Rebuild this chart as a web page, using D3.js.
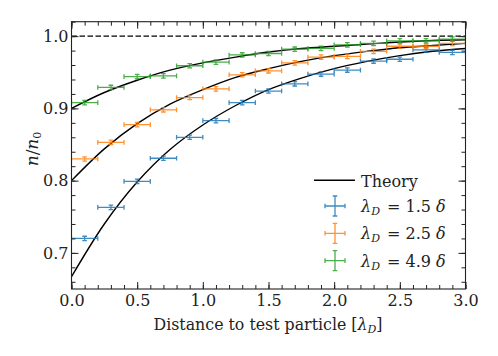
<!DOCTYPE html>
<html>
<head>
<meta charset="utf-8">
<script src="https://cdn.jsdelivr.net/npm/d3@7"></script>
<style>
  body { margin: 0; background: #fff; }
</style>
</head>
<body>
<svg id="chart"></svg>
<script>
// sample positions (bin centres) and x half-width
const distance = [0.1, 0.3, 0.5, 0.7, 0.9, 1.1, 1.3, 1.5, 1.7, 1.9, 2.1, 2.3, 2.5, 2.7, 2.9];
const binHalf = 0.1;

const density15 = [0.720, 0.763, 0.799, 0.831, 0.860, 0.883, 0.908, 0.924, 0.934, 0.9475, 0.953, 0.9655, 0.968, 0.981, 0.9775];
const density25 = [0.830, 0.853, 0.8775, 0.898, 0.915, 0.927, 0.9465, 0.952, 0.963, 0.971, 0.972, 0.979, 0.986, 0.986, 0.990];
const density49 = [0.908, 0.929, 0.944, 0.945, 0.959, 0.964, 0.974, 0.976, 0.982, 0.983, 0.988, 0.990, 0.9935, 0.9935, 0.996];
const densityErr = [0.003, 0.003, 0.003, 0.003, 0.003, 0.003, 0.003, 0.003, 0.003, 0.003, 0.003, 0.003, 0.003, 0.003, 0.003];

const theoryX = [0, 0.25, 0.5, 0.75, 1.0, 1.25, 1.5, 1.75, 2.0, 2.25, 2.5, 2.75, 3.0];
const theory15 = [0.667, 0.740, 0.798, 0.843, 0.877, 0.904, 0.926, 0.942, 0.955, 0.965, 0.973, 0.979, 0.983];
const theory25 = [0.800, 0.844, 0.879, 0.906, 0.926, 0.943, 0.955, 0.965, 0.973, 0.979, 0.984, 0.987, 0.990];
const theory49 = [0.900, 0.922, 0.939, 0.953, 0.963, 0.971, 0.978, 0.983, 0.986, 0.989, 0.992, 0.994, 0.995];

const seriesLabels = ['1.5', '2.5', '4.9'];
const xTicks = [0, 0.5, 1.0, 1.5, 2.0, 2.5, 3.0];
const yTicks = [0.7, 0.8, 0.9, 1.0];

const colors = ['#1f77b4', '#ff7f0e', '#2ca02c'];
const serif = '"DejaVu Serif", serif';

const W = 498, H = 356;
const margin = {top: 21.7, right: 32.5, bottom: 67, left: 71.5};

const svg = d3.select('#chart').attr('width', W).attr('height', H)
  .attr('font-family', serif);

const x = d3.scaleLinear().domain([0, 3]).range([margin.left, W - margin.right]);
const y = d3.scaleLinear().domain([0.65, 1.02]).range([H - margin.bottom, margin.top]);

const series = [density15, density25, density49].map((vals, i) =>
  distance.map((d, j) => ({x: d, y: vals[j], e: densityErr[j], c: colors[i]})));
const theories = [theory15, theory25, theory49].map(vals =>
  theoryX.map((d, j) => [d, vals[j]]));

const plot = svg.append('g');
plot.append('clipPath').attr('id', 'clip')
  .append('rect')
  .attr('x', margin.left).attr('y', margin.top)
  .attr('width', x(3) - x(0)).attr('height', y(0.65) - y(1.02));

const body = plot.append('g').attr('clip-path', 'url(#clip)');

// theory
const line = d3.line().x(d => x(d[0])).y(d => y(d[1])).curve(d3.curveCatmullRom);
body.selectAll('path.theory')
  .data(theories)
  .enter()
  .append('path')
  .attr('class', 'theory')
  .attr('d', line)
  .attr('fill', 'none')
  .attr('stroke', '#000')
  .attr('stroke-width', 1.4);

// reference line at n/n0 = 1
body.append('line')
  .attr('x1', x(0)).attr('x2', x(3))
  .attr('y1', y(1)).attr('y2', y(1))
  .attr('stroke', '#000')
  .attr('stroke-width', 1.3)
  .attr('stroke-dasharray', '5.5,2.5');

// error bars
const cap = 2.3;
function drawErr(g, cx, cy, hx, hy, c) {
  const p = d3.path();
  p.moveTo(cx - hx, cy); p.lineTo(cx + hx, cy);
  p.moveTo(cx, cy - hy); p.lineTo(cx, cy + hy);
  p.moveTo(cx - hx, cy - cap); p.lineTo(cx - hx, cy + cap);
  p.moveTo(cx + hx, cy - cap); p.lineTo(cx + hx, cy + cap);
  p.moveTo(cx - cap, cy - hy); p.lineTo(cx + cap, cy - hy);
  p.moveTo(cx - cap, cy + hy); p.lineTo(cx + cap, cy + hy);
  g.append('path')
    .attr('d', p.toString())
    .attr('fill', 'none')
    .attr('stroke', c)
    .attr('stroke-width', 1.3)
    .attr('stroke-opacity', 0.85);
}

series.forEach(s => {
  const g = body.append('g');
  s.forEach(d => {
    drawErr(g, x(d.x), y(d.y), x(d.x + binHalf) - x(d.x), y(d.y - d.e) - y(d.y), d.c);
  });
});

// axes, ticks inward on all four sides
const fmt = d3.format('.1f');
const xMinor = d3.range(0, 3.0001, 0.1);
const yMinor = d3.range(0.66, 1.0201, 0.02);

function axisStyle(g) {
  g.attr('font-family', serif);
  g.select('.domain').remove();
  g.selectAll('line').attr('stroke', '#222').attr('stroke-width', 1);
  g.selectAll('text').style('font-size', '16px').style('font-family', serif).attr('fill', '#222');
}

svg.append('g').attr('transform', `translate(0,${y(0.65)})`)
  .call(d3.axisBottom(x).tickValues(xMinor).tickSize(-4).tickFormat('')).call(axisStyle);
svg.append('g').attr('transform', `translate(0,${y(0.65)})`)
  .call(d3.axisBottom(x).tickValues(xTicks).tickSize(-7).tickPadding(6).tickFormat(fmt)).call(axisStyle);
svg.append('g').attr('transform', `translate(0,${y(1.02)})`)
  .call(d3.axisTop(x).tickValues(xMinor).tickSize(-4).tickFormat('')).call(axisStyle);
svg.append('g').attr('transform', `translate(0,${y(1.02)})`)
  .call(d3.axisTop(x).tickValues(xTicks).tickSize(-7).tickFormat('')).call(axisStyle);

svg.append('g').attr('transform', `translate(${x(0)},0)`)
  .call(d3.axisLeft(y).tickValues(yMinor).tickSize(-4).tickFormat('')).call(axisStyle);
svg.append('g').attr('transform', `translate(${x(0)},0)`)
  .call(d3.axisLeft(y).tickValues(yTicks).tickSize(-7).tickPadding(3).tickFormat(fmt)).call(axisStyle);
svg.append('g').attr('transform', `translate(${x(3)},0)`)
  .call(d3.axisRight(y).tickValues(yMinor).tickSize(-4).tickFormat('')).call(axisStyle);
svg.append('g').attr('transform', `translate(${x(3)},0)`)
  .call(d3.axisRight(y).tickValues(yTicks).tickSize(-7).tickFormat('')).call(axisStyle);

// frame
svg.append('rect')
  .attr('x', x(0)).attr('y', y(1.02))
  .attr('width', x(3) - x(0)).attr('height', y(0.65) - y(1.02))
  .attr('fill', 'none')
  .attr('stroke', '#222')
  .attr('stroke-width', 1.1);

// axis labels
const xl = svg.append('text')
  .attr('x', 268).attr('y', 329.5)
  .attr('text-anchor', 'middle')
  .attr('fill', '#222')
  .style('font-size', '15.8px');
xl.append('tspan').text('Distance to test particle [');
xl.append('tspan').attr('font-style', 'italic').text('λ');
xl.append('tspan').attr('font-style', 'italic').attr('font-size', '11px').attr('dy', 3).text('D');
xl.append('tspan').attr('dy', -3).text(']');

const yl = svg.append('text')
  .attr('transform', 'translate(38,149) rotate(-90)')
  .attr('text-anchor', 'middle')
  .attr('fill', '#222')
  .style('font-size', '17px');
yl.append('tspan').attr('font-style', 'italic').text('n');
yl.append('tspan').text('/');
yl.append('tspan').attr('font-style', 'italic').text('n');
yl.append('tspan').attr('font-size', '11px').attr('dy', 3).text('0');

// legend
const lg = svg.append('g');
lg.append('line')
  .attr('x1', 314).attr('x2', 355).attr('y1', 180.3).attr('y2', 180.3)
  .attr('stroke', '#000').attr('stroke-width', 1.4);
lg.append('text').attr('x', 361).attr('y', 186.5).attr('fill', '#222')
  .style('font-size', '16px').text('Theory');

seriesLabels.forEach((lab, i) => {
  const cy = 206 + i * 27.3;
  drawErr(lg, 335, cy, 10, 10, colors[i]);
  const t = lg.append('text').attr('x', 361).attr('y', cy + 6).attr('fill', '#222')
    .style('font-size', '16px');
  t.append('tspan').attr('font-style', 'italic').text('λ');
  t.append('tspan').attr('font-style', 'italic').attr('font-size', '11px').attr('dy', 3).text('D');
  t.append('tspan').attr('dy', -3).attr('dx', 2).text(' = ' + lab + ' ');
  t.append('tspan').attr('font-style', 'italic').text('δ');
});
</script>
</body>
</html>
